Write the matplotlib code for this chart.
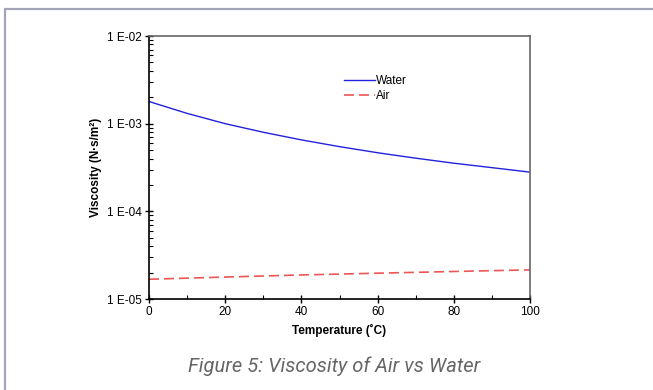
import numpy as np
import matplotlib.pyplot as plt
from matplotlib.ticker import FuncFormatter, LogLocator, MultipleLocator
from matplotlib.patches import Rectangle

plt.rcParams['font.family'] = ['Liberation Sans', 'DejaVu Sans']

temp_water = [0, 10, 20, 30, 40, 50, 60, 70, 80, 90, 100]
mu_water = [1.79e-3, 1.31e-3, 1.00e-3, 7.98e-4, 6.53e-4, 5.47e-4,
            4.66e-4, 4.04e-4, 3.54e-4, 3.15e-4, 2.80e-4]

temp_air = [0, 20, 40, 60, 80, 100]
mu_air = [1.68e-5, 1.78e-5, 1.88e-5, 1.97e-5, 2.06e-5, 2.15e-5]

fig = plt.figure(figsize=(6.53, 3.9), dpi=100)
W, H = 653, 390

# outer frame (page border)
fig.patches.append(Rectangle((5 / W, -0.05), 1.1, 1 - 9 / H + 0.05,
                             transform=fig.transFigure, fill=False,
                             edgecolor='#a4a4b8', linewidth=1.6))

ax = fig.add_axes([149 / W, 1 - 299 / H, (530 - 149) / W, (299 - 36) / H])

ax.plot(temp_water, mu_water, color='#2222dd', lw=1.0, label='Water')
ax.plot(temp_air, mu_air, color='#ee5555', lw=1.2, ls=(0, (6, 3)), label='Air')

ax.set_yscale('log')
ax.set_ylim(1e-5, 1e-2)
ax.set_xlim(0, 100)

ax.yaxis.set_major_locator(LogLocator(base=10, numticks=10))
ax.yaxis.set_minor_locator(LogLocator(base=10, subs=np.arange(2, 10), numticks=10))
ax.yaxis.set_major_formatter(FuncFormatter(lambda v, p: '1 E-%02d' % round(-np.log10(v))))
ax.xaxis.set_major_locator(MultipleLocator(20))
ax.xaxis.set_minor_locator(MultipleLocator(10))

ax.tick_params(which='major', direction='inout', length=6, width=1, labelsize=8.5,
               colors='black', pad=2)
ax.tick_params(which='minor', direction='in', length=3, width=0.8)
ax.tick_params(axis='y', which='minor', labelleft=False)

for s in ['top', 'right']:
    ax.spines[s].set_color('#666666')
    ax.spines[s].set_linewidth(1.2)
for s in ['left', 'bottom']:
    ax.spines[s].set_color('black')
    ax.spines[s].set_linewidth(1.2)

ax.set_xlabel('Temperature (˚C)', fontsize=8.5, fontweight='bold', labelpad=4)
ax.set_ylabel('Viscosity (N·s/m²)', fontsize=8.5, fontweight='bold', labelpad=4)

leg = ax.legend(loc='upper left', bbox_to_anchor=(0.5, 0.87), frameon=False,
                fontsize=8.5, handlelength=2.6, handletextpad=0.1,
                labelspacing=0.25, borderaxespad=0)

fig.text(334 / W, 1 - 366 / H, 'Figure 5: Viscosity of Air vs Water',
         ha='center', va='center', fontsize=14.5, style='italic',
         color='#666666', family=['Roboto', 'DejaVu Sans'], fontweight='normal')

fig.savefig('out.png', dpi=100)
